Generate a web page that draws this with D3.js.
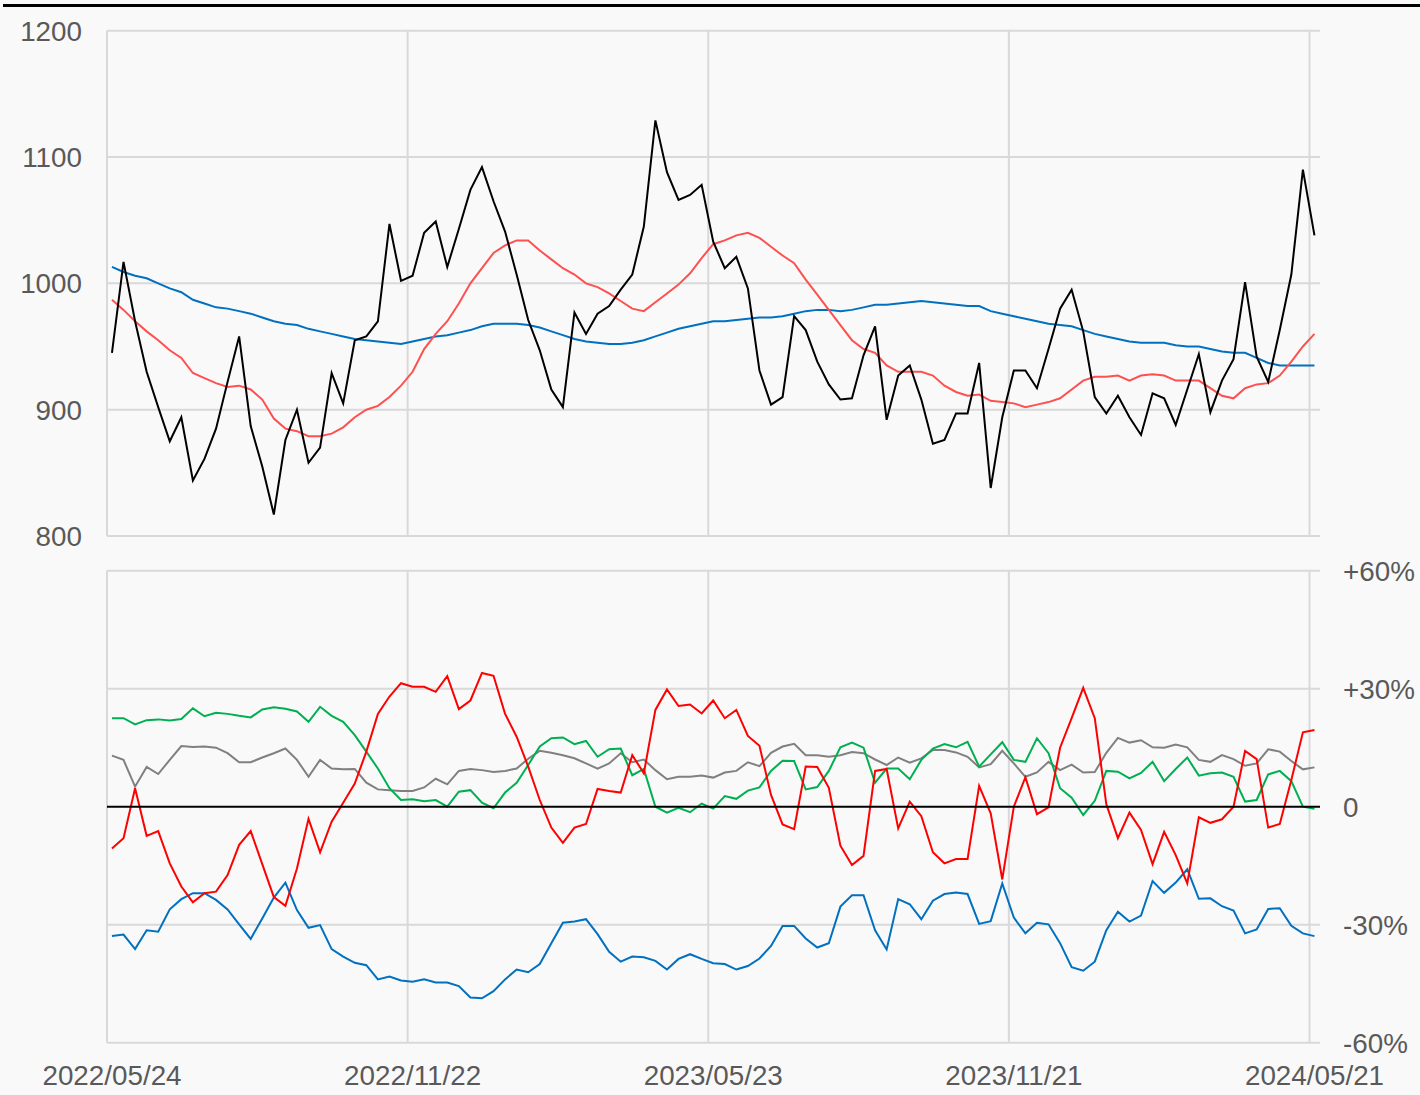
<!DOCTYPE html>
<html>
<head>
<meta charset="utf-8">
<script src="https://cdn.jsdelivr.net/npm/d3@7"></script>
<style>
  html, body { margin: 0; padding: 0; background: #f9f9f9; }
  svg { display: block; }
  text { font-family: "Liberation Sans", Arial, sans-serif; font-size: 27.8px; fill: #595959; }
</style>
</head>
<body>
<div id="div_svg"></div>
<script>
// weekly closes (Fridays) starting 2022/05/27
var firstDate = Date.UTC(2022, 4, 27);
var tickDates = ["2022/05/24", "2022/11/22", "2023/05/23", "2023/11/21", "2024/05/21"];
var priceTicks = [800, 900, 1000, 1100, 1200];
var pctTicks = [-60, -30, 0, 30, 60];

var price = [945,1017,970,930,902,875,894,844,861,885,922,958,887,855,817,876,900,858,870,929,
  905,955,958,970,1047,1002,1006,1040,1049,1013,1043,1074,1092,1065,1041,1007,971,947,916,902,
  977,960,976,982,995,1007,1045,1129,1088,1066,1070,1078,1033,1012,1021,996,931,904,910,974,
  963,938,920,908,909,943,966,892,927,935,908,873,876,897,897,937,838,894,931,931,
  917,948,980,995,962,910,897,911,894,880,913,909,888,916,944,898,923,940,1001,942,
  922,963,1007,1090,1038];
var maShort = [987,979,970,962,955,947,941,929,925,921,918,919,916,908,893,885,883,879,879,881,
  886,894,900,903,910,919,930,948,960,970,984,1000,1012,1024,1030,1034,1034,1026,1019,1012,
  1007,1000,997,992,986,980,978,985,992,999,1008,1020,1031,1034,1038,1040,1036,1029,1022,1016,
  1003,991,979,967,955,948,945,935,930,930,930,927,919,914,911,912,907,906,905,902,
  904,906,909,916,923,926,926,927,923,927,928,927,923,923,923,917,911,909,917,920,
  921,927,938,950,960];
var maLong = [1013,1009,1006,1004,1000,996,993,987,984,981,980,978,976,973,970,968,967,964,962,960,
  958,956,955,954,953,952,954,956,958,959,961,963,966,968,968,968,967,965,962,959,
  956,954,953,952,952,953,955,958,961,964,966,968,970,970,971,972,973,973,974,976,
  978,979,979,978,979,981,983,983,984,985,986,985,984,983,982,982,978,976,974,972,
  970,968,967,966,963,960,958,956,954,953,953,953,951,950,950,948,946,945,945,941,
  937,935,935,935,935];

var devRed = [-10.6,-8.0,4.7,-7.4,-6.2,-14.4,-20.3,-24.3,-22.0,-21.6,-17.4,-9.7,-6.2,-14.6,-23.0,-25.2,-15.7,-3.1,-11.6,-3.8,
  1.0,5.9,14.0,23.6,28.0,31.4,30.5,30.5,29.2,33.2,24.8,27.0,34.0,33.3,23.6,17.8,10.2,1.7,-5.3,-9.2,
  -5.3,-4.4,4.5,4.0,3.6,13.1,8.5,24.6,29.8,25.6,26.0,23.7,27.0,22.5,24.6,18.0,15.5,3.0,-4.5,-5.7,
  10.2,10.1,4.8,-9.9,-14.8,-12.5,9.1,9.6,-5.5,1.3,-2.4,-11.6,-14.4,-13.3,-13.3,5.3,-1.7,-18.5,0.0,7.5,
  -1.9,-0.2,15.0,22.5,30.2,22.5,0.6,-8.0,-1.5,-5.9,-14.6,-6.4,-12.3,-19.5,-2.7,-4.1,-3.2,0.0,14.2,12.1,
  -5.3,-4.4,6.8,18.9,19.5];
var devGreen = [22.5,22.5,20.9,22.0,22.2,21.9,22.3,25.0,23.0,23.9,23.6,23.1,22.7,24.7,25.3,24.9,24.2,21.6,25.4,23.1,
  21.6,18.2,14.0,9.7,4.7,1.7,1.9,1.4,1.7,0.0,3.8,4.2,1.0,-0.4,3.6,6.1,10.6,15.3,17.4,17.6,
  15.9,16.7,12.7,14.6,14.8,8.0,9.6,0.0,-1.5,-0.3,-1.4,0.8,-0.5,2.7,2.0,4.1,4.9,9.1,11.7,11.6,
  4.4,5.0,9.1,15.1,16.3,15.0,6.1,9.7,9.7,7.0,11.9,14.8,15.9,15.1,16.5,10.2,13.3,16.4,11.9,11.4,
  17.4,13.6,4.7,2.3,-2.1,1.5,9.1,8.9,7.2,8.6,11.4,6.5,9.6,12.5,7.9,8.5,8.7,7.6,1.3,1.7,
  8.2,9.1,6.5,0.0,-0.5];
var devGray = [13.0,11.9,5.1,10.1,8.3,11.9,15.4,15.2,15.3,15.0,13.6,11.3,11.3,12.5,13.6,14.8,11.9,7.6,11.9,9.7,
  9.5,9.6,6.1,4.4,4.2,4.0,4.0,4.9,7.1,5.7,9.1,9.6,9.3,8.8,9.1,9.7,12.2,14.2,13.7,13.1,
  12.3,11.0,9.7,11.0,13.6,11.3,12.0,9.3,7.0,7.6,7.6,7.9,7.4,8.7,9.1,11.3,10.3,13.7,15.3,16.0,
  13.1,13.1,12.7,13.1,13.9,13.6,12.0,10.6,12.5,11.2,12.3,14.4,14.4,13.8,12.7,10.0,10.8,14.2,11.0,7.6,
  8.7,11.4,9.3,10.7,8.7,8.8,13.7,17.5,16.3,16.9,15.1,15.0,15.8,15.1,11.9,11.4,13.1,12.1,10.4,11.0,
  14.6,14.0,11.6,9.5,10.0];
var devBlue = [-32.9,-32.5,-36.2,-31.4,-31.8,-26.1,-23.5,-22.0,-22.0,-23.7,-26.1,-29.9,-33.6,-28.4,-23.1,-19.3,-26.3,-30.8,-30.1,-36.2,
  -38.1,-39.7,-40.3,-43.9,-43.2,-44.2,-44.5,-43.9,-44.7,-44.7,-45.6,-48.5,-48.7,-46.9,-43.9,-41.4,-42.1,-40.0,-34.7,-29.5,
  -29.2,-28.6,-32.4,-36.9,-39.4,-38.1,-38.3,-39.2,-41.4,-38.7,-37.5,-38.7,-39.8,-40.0,-41.4,-40.5,-38.6,-35.4,-30.3,-30.3,
  -33.5,-35.8,-34.7,-25.4,-22.5,-22.5,-31.4,-36.3,-23.5,-24.8,-28.6,-23.9,-22.2,-21.8,-22.2,-29.8,-29.1,-19.5,-28.2,-32.2,
  -29.5,-29.9,-34.7,-40.8,-41.7,-39.4,-31.4,-26.7,-29.2,-27.7,-18.9,-21.9,-19.3,-15.9,-23.4,-23.3,-25.3,-26.4,-32.2,-31.2,
  -26.0,-25.8,-30.3,-32.2,-32.9];

var W = 1420, H = 1095;
var parseTick = d3.utcParse("%Y/%m/%d");
var fmtTick = d3.utcFormat("%Y/%m/%d");
var ticks = tickDates.map(parseTick);
var dates = price.map(function (d, i) { return new Date(firstDate + i * 7 * 86400000); });

var svg = d3.select("#div_svg").append("svg").attr("id", "svg")
    .attr("width", W).attr("height", H);

svg.append("rect").attr("width", W).attr("height", H).style("fill", "#f9f9f9");
svg.append("line").attr("x1", 3).attr("x2", W).attr("y1", 5.5).attr("y2", 5.5)
    .style("stroke", "#000").style("stroke-width", 3);

var x = d3.scaleUtc().domain([ticks[0], ticks[4]]).range([107, 1309.5]);
var xRight = 1320;

var yTop = d3.scaleLinear().domain([800, 1200]).range([536, 30.7]);
var yBot = d3.scaleLinear().domain([-60, 60]).range([1042.7, 570.7]);

function grid(g, y, yTicks) {
    g.selectAll(".hg").data(yTicks).enter().append("line")
        .attr("x1", 107).attr("x2", xRight)
        .attr("y1", function (d) { return y(d); }).attr("y2", function (d) { return y(d); })
        .style("stroke", "#d9d9d9").style("stroke-width", 2);
    g.selectAll(".vg").data(ticks).enter().append("line")
        .attr("x1", function (d) { return x(d); }).attr("x2", function (d) { return x(d); })
        .attr("y1", y.range()[1]).attr("y2", y.range()[0])
        .style("stroke", "#d9d9d9").style("stroke-width", 2);
}

function series(g, y, vals, color, width) {
    var line = d3.line()
        .x(function (d, i) { return x(dates[i]); })
        .y(function (d) { return y(d); });
    g.append("path").datum(vals).attr("d", line)
        .style("fill", "none").style("stroke", color)
        .style("stroke-width", width).style("stroke-linejoin", "miter");
}

// top panel
var topG = svg.append("g");
grid(topG, yTop, priceTicks);
series(topG, yTop, maLong, "#0070c0", 2);
series(topG, yTop, maShort, "#ff5050", 2);
series(topG, yTop, price, "#000000", 2);

topG.selectAll(".yl").data(priceTicks).enter().append("text")
    .attr("x", 82).attr("y", function (d) { return yTop(d); })
    .attr("dy", "0.36em").attr("text-anchor", "end")
    .text(function (d) { return d; });

// bottom panel
var botG = svg.append("g");
grid(botG, yBot, pctTicks.filter(function (d) { return d !== 0; }));
series(botG, yBot, devGray, "#808080", 2);
series(botG, yBot, devGreen, "#00b050", 2);
series(botG, yBot, devBlue, "#0070c0", 2);
series(botG, yBot, devRed, "#ff0000", 2);
botG.append("line").attr("x1", 107).attr("x2", xRight)
    .attr("y1", yBot(0)).attr("y2", yBot(0))
    .style("stroke", "#000").style("stroke-width", 2);

botG.selectAll(".yl").data(pctTicks).enter().append("text")
    .attr("x", 1343).attr("y", function (d) { return yBot(d); })
    .attr("dy", "0.36em")
    .text(function (d) { return d > 0 ? "+" + d + "%" : (d < 0 ? d + "%" : "0"); });

// x labels
svg.selectAll(".xl").data(ticks).enter().append("text")
    .attr("x", function (d) { return x(d) + 5; }).attr("y", 1084.5)
    .attr("text-anchor", "middle")
    .text(function (d) { return fmtTick(d); });
</script>
</body>
</html>
